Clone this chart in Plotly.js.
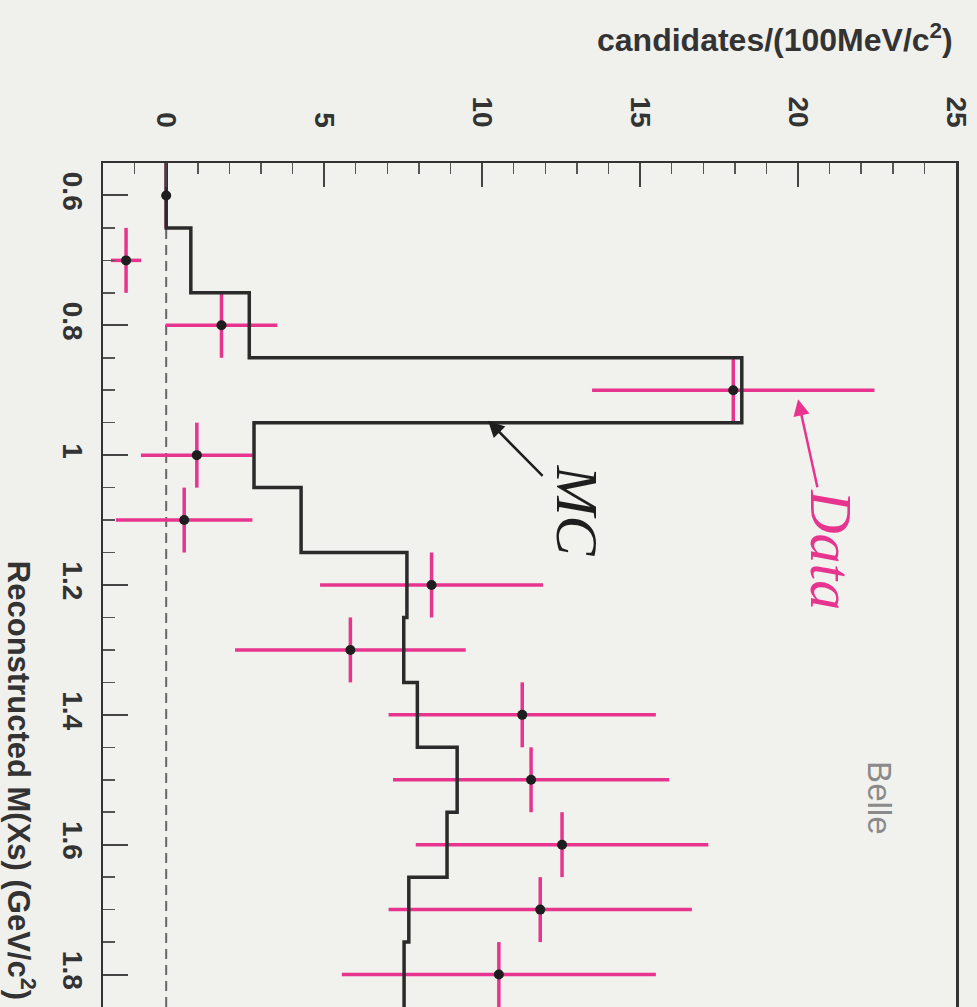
<!DOCTYPE html>
<html>
<head>
<meta charset="utf-8">
<script src="https://cdn.plot.ly/plotly-3.0.1.min.js"></script>
<style>html,body{margin:0;padding:0;background:#f0f0ec;}#chart{width:977px;height:1007px;}</style>
</head>
<body>
<div id="chart"></div>
<script>
// Bin centres of reconstructed M(Xs) in GeV/c^2 (bin width 0.1)
var massBins = [0.6, 0.7, 0.8, 0.9, 1.0, 1.1, 1.2, 1.3, 1.4, 1.5, 1.6, 1.7, 1.8];
// Data: candidates per bin and its error
var dataCounts = [0.0, -1.27, 1.75, 17.95, 0.97, 0.57, 8.40, 5.83, 11.27, 11.55, 12.53, 11.84, 10.53];
var dataErrors = [0.0, 0.48, 1.77, 4.47, 1.77, 2.16, 3.53, 3.65, 4.23, 4.37, 4.63, 4.80, 4.97];
// MC histogram contents
var mcCounts = [0.0, 0.78, 2.63, 18.22, 2.78, 4.27, 7.62, 7.52, 7.95, 9.21, 8.89, 7.68, 7.53];
var binHalfWidth = 0.05;
var massTickVals = [0.6, 0.8, 1.0, 1.2, 1.4, 1.6, 1.8];
var countTickVals = [0, 5, 10, 15, 20, 25];

var pink = '#e6348f';
var ink = '#2b2b2b';

// step outline for MC histogram built from bin edges
var stepX = mcCounts.concat([mcCounts[mcCounts.length - 1]]);
var stepY = massBins.map(function (m) { return m - binHalfWidth; })
  .concat([massBins[massBins.length - 1] + binHalfWidth]);

var traces = [
  {
    type: 'scatter', mode: 'markers',
    x: dataCounts, y: massBins,
    marker: {size: 1, color: 'rgba(0,0,0,0)'},
    error_x: {type: 'data', array: dataErrors, color: pink, thickness: 3.5, width: 0},
    error_y: {type: 'data', array: massBins.map(function () { return binHalfWidth; }), color: pink, thickness: 3.5, width: 0},
    hoverinfo: 'skip', showlegend: false
  },
  {
    type: 'scatter', mode: 'lines',
    x: stepX, y: stepY,
    line: {shape: 'vh', color: ink, width: 3.5},
    showlegend: false
  },
  {
    type: 'scatter', mode: 'markers',
    x: dataCounts, y: massBins,
    marker: {size: 10, color: '#1e1e1e'},
    showlegend: false
  }
];

var tickFont = {family: 'Liberation Sans, Arial, sans-serif', size: 28, color: '#333333', weight: 'bold'};

var layout = {
  width: 977, height: 1007,
  margin: {l: 103, r: 21, t: 163, b: 0, pad: 0},
  paper_bgcolor: '#f0f0ec',
  plot_bgcolor: '#f1f1ed',
  showlegend: false,
  xaxis: {
    side: 'top',
    range: [-2, 25],
    tickmode: 'array', tickvals: countTickVals,
    tickangle: 90,
    ticks: 'inside', ticklen: 24, tickwidth: 2, tickcolor: '#444',
    minor: {dtick: 1, tick0: 0, ticks: 'inside', ticklen: 11, tickwidth: 1.5, tickcolor: '#555'},
    ticklabelstandoff: 23,
    tickfont: tickFont,
    showgrid: false, zeroline: false,
    showline: true, mirror: true, linecolor: '#333', linewidth: 2.5
  },
  yaxis: {
    range: [1.85, 0.55],
    tickmode: 'array', tickvals: massTickVals,
    tickangle: 90,
    ticks: 'inside', ticklen: 25, tickwidth: 2, tickcolor: '#444',
    minor: {dtick: 0.05, tick0: 0.55, ticks: 'inside', ticklen: 12, tickwidth: 1.5, tickcolor: '#555'},
    ticklabelstandoff: 4,
    tickfont: tickFont,
    showgrid: false, zeroline: false,
    showline: true, mirror: true, linecolor: '#333', linewidth: 2.5
  },
  shapes: [
    {type: 'line', xref: 'x', yref: 'paper', x0: 0, x1: 0, y0: 0, y1: 1,
     line: {color: '#666', width: 2, dash: '10px,6px'}, layer: 'below'}
  ],
  annotations: [
    {xref: 'paper', yref: 'paper', x: 0.788, y: 1.148, xanchor: 'center', yanchor: 'middle', showarrow: false,
     text: 'candidates/(100MeV/c<sup>2</sup>)',
     font: {family: 'Liberation Sans, Arial, sans-serif', size: 32, color: '#333', weight: 'bold'}},
    {xref: 'paper', yref: 'paper', x: -0.096, y: 0.269, xanchor: 'center', yanchor: 'middle', showarrow: false, textangle: 90,
     text: 'Reconstructed M(Xs) (GeV/c<sup>2</sup>)',
     font: {family: 'Liberation Sans, Arial, sans-serif', size: 31, color: '#333', weight: 'bold'}},
    {xref: 'x', yref: 'y', x: 20.0, y: 0.914, ax: 33, ay: 150, textangle: 90,
     text: '<i>Data</i>',
     font: {family: 'Liberation Serif, Times New Roman, serif', size: 60, color: pink},
     showarrow: true, arrowhead: 2, arrowsize: 1.3, arrowwidth: 2.5, arrowcolor: pink, standoff: 0},
    {xref: 'x', yref: 'y', x: 10.19, y: 0.947, ax: 89, ay: 90, textangle: 90,
     text: '<i>MC</i>',
     font: {family: 'Liberation Serif, Times New Roman, serif', size: 60, color: '#1e1e1e'},
     showarrow: true, arrowhead: 2, arrowsize: 1.3, arrowwidth: 2.5, arrowcolor: '#1e1e1e', standoff: 0},
    {xref: 'x', yref: 'y', x: 22.6, y: 1.527, xanchor: 'center', yanchor: 'middle', showarrow: false, textangle: 90,
     text: 'Belle',
     font: {family: 'Liberation Sans, Arial, sans-serif', size: 33, color: '#8a8a8a'}}
  ]
};

Plotly.newPlot('chart', traces, layout, {staticPlot: true, displayModeBar: false});
</script>
</body>
</html>
